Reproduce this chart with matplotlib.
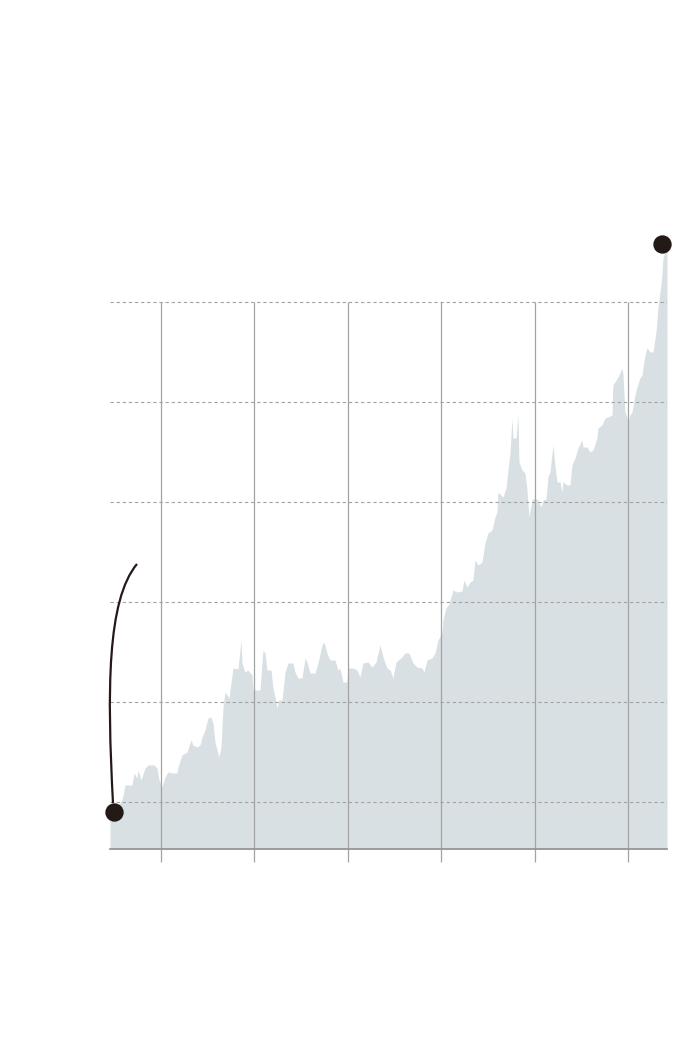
import matplotlib
matplotlib.use("Agg")
import matplotlib.pyplot as plt
from matplotlib.path import Path
from matplotlib.patches import PathPatch

# ---- data (years since first tick, index value) ----
t = [-0.546, -0.482, -0.418, -0.385, -0.310, -0.289, -0.257, -0.246, -0.214, -0.171,
     -0.139, -0.075, -0.043, -0.021, 0.011, 0.043, 0.075, 0.118, 0.171, 0.182,
     0.225, 0.278, 0.321, 0.343, 0.385, 0.418, 0.439, 0.471, 0.503, 0.535,
     0.557, 0.578, 0.621, 0.642, 0.664, 0.685, 0.728, 0.771, 0.824, 0.857,
     0.867, 0.899, 0.931, 0.974, 0.985, 1.060, 1.092, 1.113, 1.135, 1.178,
     1.199, 1.221, 1.242, 1.263, 1.296, 1.328, 1.360, 1.413, 1.435, 1.467,
     1.510, 1.542, 1.563, 1.595, 1.649, 1.681, 1.724, 1.745, 1.777, 1.809,
     1.863, 1.895, 1.916, 1.949, 1.991, 2.002, 2.056, 2.099, 2.131, 2.163,
     2.216, 2.259, 2.302, 2.345, 2.377, 2.420, 2.452, 2.484, 2.516, 2.580,
     2.612, 2.655, 2.698, 2.741, 2.794, 2.816, 2.848, 2.901, 2.934, 2.966,
     3.009, 3.019, 3.051, 3.084, 3.126, 3.169, 3.223, 3.244, 3.276, 3.308,
     3.340, 3.362, 3.394, 3.437, 3.469, 3.501, 3.544, 3.576, 3.597, 3.608,
     3.640, 3.662, 3.694, 3.715, 3.737, 3.758, 3.769, 3.801, 3.822, 3.833,
     3.865, 3.897, 3.919, 3.940, 3.972, 4.004, 4.036, 4.069, 4.090, 4.122,
     4.143, 4.165, 4.197, 4.218, 4.240, 4.272, 4.293, 4.304, 4.347, 4.379,
     4.400, 4.433, 4.465, 4.507, 4.518, 4.561, 4.593, 4.625, 4.668, 4.679,
     4.722, 4.754, 4.786, 4.829, 4.839, 4.861, 4.893, 4.936, 4.946, 4.968,
     4.989, 5.000, 5.021, 5.043, 5.075, 5.096, 5.128, 5.150, 5.182, 5.203,
     5.236, 5.268, 5.300, 5.321, 5.343, 5.364, 5.375, 5.396, 5.418]

values = [0.90, 0.94, 1.02, 1.17, 1.17, 1.29, 1.24, 1.32, 1.22, 1.34,
          1.37, 1.37, 1.34, 1.22, 1.15, 1.25, 1.30, 1.29, 1.29, 1.35,
          1.47, 1.50, 1.62, 1.57, 1.55, 1.57, 1.65, 1.72, 1.84, 1.85,
          1.79, 1.60, 1.45, 1.55, 1.95, 2.10, 2.04, 2.34, 2.33, 2.62,
          2.39, 2.30, 2.32, 2.27, 2.12, 2.12, 2.52, 2.49, 2.32, 2.32,
          2.14, 2.05, 1.94, 2.02, 2.02, 2.30, 2.39, 2.39, 2.30, 2.24,
          2.24, 2.44, 2.40, 2.29, 2.29, 2.39, 2.57, 2.60, 2.49, 2.42,
          2.42, 2.32, 2.34, 2.20, 2.20, 2.34, 2.34, 2.32, 2.25, 2.39,
          2.40, 2.35, 2.40, 2.57, 2.45, 2.34, 2.32, 2.24, 2.40, 2.45,
          2.49, 2.49, 2.39, 2.35, 2.34, 2.30, 2.42, 2.44, 2.49, 2.62,
          2.69, 2.82, 2.94, 2.98, 3.12, 3.10, 3.11, 3.22, 3.15, 3.20,
          3.22, 3.42, 3.37, 3.40, 3.59, 3.69, 3.72, 3.85, 3.90, 4.10,
          4.07, 4.05, 4.14, 4.32, 4.49, 4.84, 4.64, 4.64, 4.87, 4.40,
          4.32, 4.29, 4.12, 3.85, 4.02, 4.04, 4.02, 3.95, 4.02, 4.03,
          4.25, 4.30, 4.57, 4.37, 4.20, 4.20, 4.10, 4.20, 4.17, 4.17,
          4.37, 4.44, 4.54, 4.62, 4.55, 4.55, 4.50, 4.52, 4.64, 4.74,
          4.77, 4.84, 4.85, 4.87, 5.17, 5.20, 5.25, 5.34, 5.29, 4.90,
          4.85, 4.80, 4.87, 4.90, 5.07, 5.15, 5.24, 5.27, 5.47, 5.54,
          5.50, 5.50, 5.70, 5.94, 6.10, 6.27, 6.44, 6.50, 6.70]

year_ticks = [0, 1, 2, 3, 4, 5]
grid_levels = [1, 2, 3, 4, 5, 6]
start_point = (-0.503, 0.90)
end_point = (5.364, 6.58)

# ---- figure ----
fig = plt.figure(figsize=(7, 10.4), dpi=100)
ax = fig.add_axes([110 / 700, 1 - 849 / 1040, 557 / 700, 647 / 1040])
ax.set_xlim(-0.546, 5.418)
ax.set_ylim(0.53, 7.0)

ax.fill_between(t, 0.53, values, color="#d8e0e3", lw=0, zorder=1)

ax.hlines(grid_levels, -0.546, 5.418, colors="#a3a3a3", linestyles=(0, (3, 2.5)),
          lw=0.8, zorder=2)
ax.vlines(year_ticks, 0.53, grid_levels[-1], colors="#a3a3a3", lw=0.9, zorder=2)

for s in ["top", "right", "left"]:
    ax.spines[s].set_visible(False)
ax.spines["bottom"].set_color("#8f8f8f")
ax.spines["bottom"].set_linewidth(1.2)
ax.spines["bottom"].set_zorder(3)

ax.set_xticks(year_ticks)
ax.set_xticklabels([])
ax.set_yticks([])
ax.tick_params(axis="x", length=9.5, width=0.9, color="#a3a3a3", direction="out")

# annotation connector from the starting point
verts = [(-0.514, 0.99), (-0.578, 2.12), (-0.578, 3.02), (-0.257, 3.38)]
codes = [Path.MOVETO, Path.CURVE4, Path.CURVE4, Path.CURVE4]
ax.add_patch(PathPatch(Path(verts, codes), facecolor="none", edgecolor="#231a17",
                       lw=1.6, zorder=4, clip_on=False))

ax.scatter([start_point[0], end_point[0]], [start_point[1], end_point[1]],
           s=175, color="#231a17", zorder=5, clip_on=False, linewidths=0)

fig.savefig("out.png", dpi=100)
